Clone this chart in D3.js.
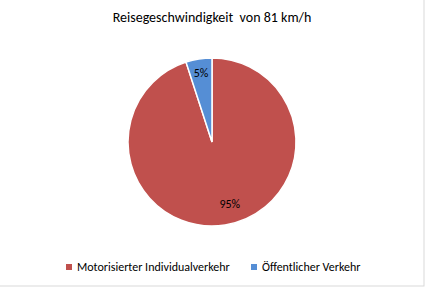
<!DOCTYPE html>
<html>
<head>
<meta charset="utf-8">
<script src="https://cdn.jsdelivr.net/npm/d3@7"></script>
<style>
  body { margin: 0; background: #fff; }
  svg { display: block; font-family: Carlito, Calibri, "Open Sans", sans-serif; }
</style>
</head>
<body>
<div id="chart"></div>
<script>
// data
const categories = ['Motorisierter Individualverkehr', 'Öffentlicher Verkehr'];
const shares = [95, 5];
const sliceLabels = ['95%', '5%'];
const colors = ['#C0504D', '#558ED5'];
const title = 'Reisegeschwindigkeit\u00a0\u00a0von 81 km/h';

const width = 425, height = 287;
const cx = 212, cy = 142, radius = 84;

const svg = d3.select('#chart').append('svg')
    .attr('width', width)
    .attr('height', height);

// outer frame (only right/bottom edges show in the crop)
svg.append('rect')
    .attr('x', -1).attr('y', -1)
    .attr('width', width).attr('height', height)
    .attr('fill', 'none')
    .attr('stroke', '#d9d9d9');

svg.append('text')
    .attr('x', cx)
    .attr('y', 22)
    .attr('text-anchor', 'middle')
    .attr('font-size', '14px')
    .attr('fill', '#000')
    .text(title);

const pie = d3.pie().sort(null).value(d => d);
const arcs = pie(shares);
const arc = d3.arc().innerRadius(0).outerRadius(radius);

const g = svg.append('g').attr('transform', `translate(${cx},${cy})`);

g.selectAll('path.slice')
    .data(arcs)
    .enter()
    .append('path')
    .attr('class', 'slice')
    .attr('d', arc)
    .attr('fill', (d, i) => colors[i])
    .attr('stroke', '#fff')
    .attr('stroke-width', 1.5);

// label placement: fraction of radius, and angle shift (deg) from the bisector
const labelRadius = [0.77, 0.83];
const labelShift = [-7, 0];
g.selectAll('text.lbl')
    .data(arcs)
    .enter()
    .append('text')
    .attr('class', 'lbl')
    .attr('transform', (d, i) => {
        const a = (d.startAngle + d.endAngle) / 2 + labelShift[i] * Math.PI / 180;
        const r = radius * labelRadius[i];
        return `translate(${r * Math.sin(a)},${-r * Math.cos(a)})`;
    })
    .attr('text-anchor', 'middle')
    .attr('dy', '0.35em')
    .attr('font-size', '12px')
    .attr('fill', '#000')
    .text((d, i) => sliceLabels[i]);

// legend
const legendX = [66, 251];
const legend = svg.append('g');
const items = legend.selectAll('g')
    .data(categories)
    .enter()
    .append('g')
    .attr('transform', (d, i) => `translate(${legendX[i]},267)`);

items.append('rect')
    .attr('x', 0).attr('y', -3)
    .attr('width', 6).attr('height', 6)
    .attr('fill', (d, i) => colors[i]);

items.append('text')
    .attr('x', 11)
    .attr('dy', '0.35em')
    .attr('font-size', '12px')
    .attr('fill', '#000')
    .text(d => d);
</script>
</body>
</html>
